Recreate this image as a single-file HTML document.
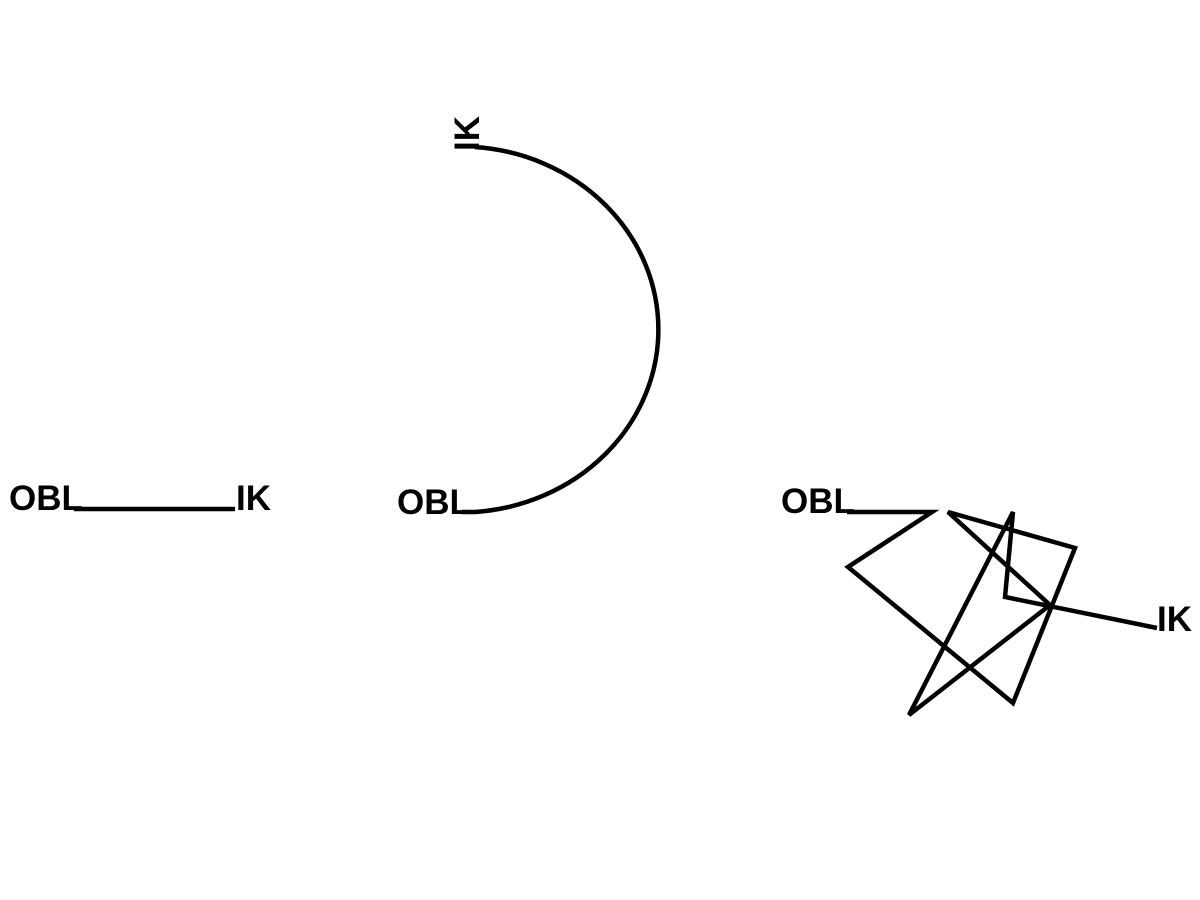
<!DOCTYPE html>
<html><head><style>
html,body{margin:0;padding:0;background:#fff;}
svg{display:block;}
text{font-family:"Liberation Sans",sans-serif;font-weight:bold;font-size:35px;fill:#000;}
</style></head><body>
<svg width="1200" height="900" viewBox="0 0 1200 900" xmlns="http://www.w3.org/2000/svg">
<g fill="none" stroke="#000" stroke-width="4.5" stroke-linejoin="miter">
<polyline points="74,509 235,509"/>
<path d="M462,512 L475,512 A198,183 0 0 0 475,147 L478,147"/>
<polyline points="847,512 932,512 848,567 1013,703 1075,548 948,512 1050,605 909,715 1013,512 1005,597 1157,628"/>
</g>
<text x="9" y="510">OBL</text>
<text x="236" y="510">IK</text>
<text x="397" y="514">OBL</text>
<text x="781" y="513">OBL</text>
<text x="1157" y="631">IK</text>
<text transform="translate(479,151) rotate(-90)">IK</text>
</svg>
</body></html>
